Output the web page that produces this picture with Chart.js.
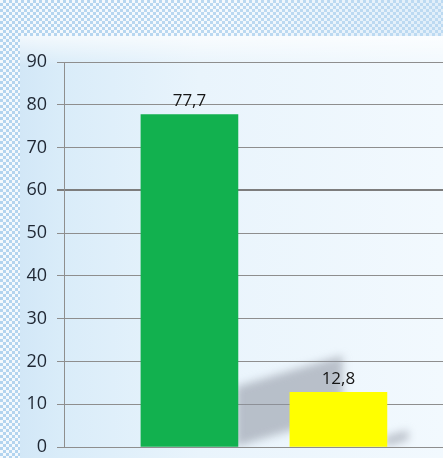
<!DOCTYPE html>
<html>
<head>
<meta charset="utf-8">
<script src="https://cdn.jsdelivr.net/npm/chart.js@4/dist/chart.umd.min.js"></script>
<style>
html,body{margin:0;padding:0;width:443px;height:458px;overflow:hidden;}
body{position:relative;background:linear-gradient(90deg,#cfe5f6 0px,#d9ecf9 60px,#e9f4fc 200px,#f2f9fe 443px);}
#bandTop{position:absolute;left:0;top:0;width:443px;height:36px;
 background-color:#f4f9fd;
 background-image:repeating-conic-gradient(#b3d4ef 0 25%, transparent 0 50%);
 background-size:6px 6px;}
#bandTopFade{position:absolute;left:0;top:0;width:443px;height:36px;
 background:linear-gradient(90deg,rgba(255,255,255,0) 0%,rgba(255,255,255,0.1) 50%,rgba(200,225,245,0.45) 100%);}
#bandLeft{position:absolute;left:0;top:36px;width:20px;height:422px;
 background-color:#f4f9fd;
 background-image:repeating-conic-gradient(#b3d4ef 0 25%, transparent 0 50%);
 background-size:6px 6px;}
#glow{position:absolute;left:20px;top:36px;width:423px;height:30px;background:linear-gradient(180deg,rgba(255,255,255,0.7),rgba(255,255,255,0));}
canvas{position:absolute;left:0;top:0;}
</style>
</head>
<body>
<div id="bandTop"></div><div id="bandTopFade"></div><div id="bandLeft"></div><div id="glow"></div>
<canvas id="c" width="443" height="458"></canvas>
<script>
const categories = ['A', 'B'];
const values = [77.7, 12.8];
const barColors = ['#12b14f', '#ffff00'];
const yTicks = [0, 10, 20, 30, 40, 50, 60, 70, 80, 90];

const shadowPlugin = {
  id: 'shadowPlugin',
  beforeDatasetsDraw(chart) {
    const ctx = chart.ctx;
    const meta = chart.getDatasetMeta(0);
    ctx.save();
    ctx.beginPath();
    ctx.rect(chart.chartArea.left, chart.chartArea.top, chart.chartArea.right - chart.chartArea.left, chart.chartArea.bottom - chart.chartArea.top);
    ctx.clip();
    ctx.filter = 'blur(4px)';
    ctx.fillStyle = 'rgba(140,146,158,0.55)';
    meta.data.forEach(bar => {
      const right = bar.x + bar.width / 2;
      const h = bar.base - bar.y;
      const s = 0.18 * h;
      const L = 0.3 * h + 5;
      const k = 0.3;
      ctx.beginPath();
      ctx.moveTo(right - 2, bar.base - s);
      ctx.lineTo(right + L, bar.base - s - L * k);
      ctx.lineTo(right + L, bar.base - L * k);
      ctx.lineTo(right - 2, bar.base);
      ctx.closePath();
      ctx.fill();
    });
    ctx.restore();
  },
  afterDatasetsDraw(chart) {
    const ctx = chart.ctx;
    const meta = chart.getDatasetMeta(0);
    ctx.save();
    ctx.font = '17px "Open Sans", sans-serif';
    ctx.fillStyle = '#161616';
    ctx.textAlign = 'center';
    ctx.textBaseline = 'bottom';
    meta.data.forEach((bar, i) => {
      ctx.fillText(String(values[i]).replace('.', ','), bar.x, bar.y - 5);
    });
    ctx.restore();
  }
};

new Chart(document.getElementById('c'), {
  type: 'bar',
  data: {
    labels: categories,
    datasets: [{
      data: values.map((v, i) => ({x: i + 1, y: v})),
      backgroundColor: barColors,
      borderWidth: 0,
      barThickness: 97
    }]
  },
  options: {
    responsive: false,
    animation: false,
    devicePixelRatio: 1,
    layout: {padding: {top: 62, bottom: 11, left: 0, right: 0}},
    plugins: {legend: {display: false}, tooltip: {enabled: false}},
    scales: {
      x: {type: 'linear', display: false, offset: false, min: 0.158, max: 2.702},
      y: {
        min: 0, max: 90,
        afterFit(s) { s.width = 64; s.paddingTop = 0; s.paddingBottom = 0; },
        afterBuildTicks(s) { s.ticks = yTicks.map(v => ({value: v})); },
        ticks: {
          padding: 10,
          color: '#1f2733',
          font: {family: '"Open Sans", sans-serif', size: 18}
        },
        grid: {
          tickLength: 7,
          color: ctx => (ctx.tick && ctx.tick.value === 60) ? '#7d7d7d' : '#8e8e8e',
          lineWidth: ctx => (ctx.tick && ctx.tick.value === 60) ? 2 : 1
        },
        border: {display: true, color: '#8e8e8e', width: 1}
      }
    }
  },
  plugins: [shadowPlugin]
});
</script>
</body>
</html>
